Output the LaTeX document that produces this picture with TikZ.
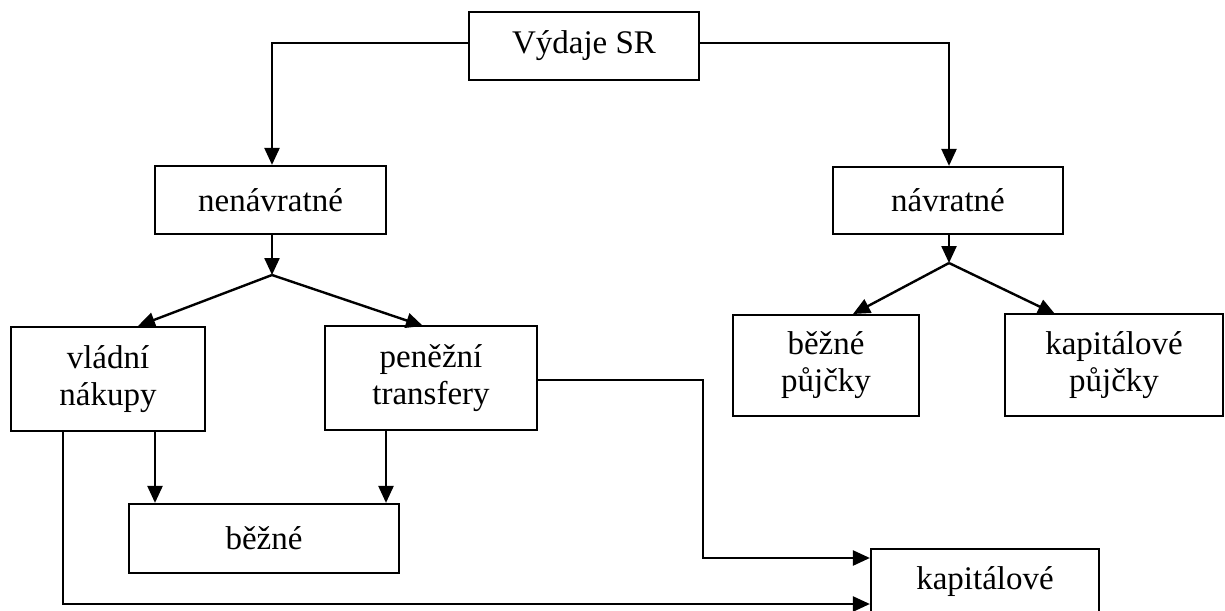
\documentclass[tikz,border=0pt]{standalone}
\usepackage{fontspec}
\setmainfont{Liberation Serif}
\usetikzlibrary{arrows.meta,calc}
\begin{document}
\begin{tikzpicture}[x=0.5pt,y=-0.5pt,
  box/.style={draw,line width=1.1pt,inner sep=0pt,align=center,
    font=\fontsize{16.5}{18.5}\selectfont},
  arr/.style={line width=1.2pt,-{Triangle[length=8.5pt,width=7.5pt]}},
  ln/.style={line width=1.2pt}]
\useasboundingbox (0,0) rectangle (1225,610);
% boxes
\node[box,minimum width=115pt,minimum height=34pt] (top) at (584,46) {Výdaje SR};
\node[box,minimum width=115.5pt,minimum height=34pt] (nenav) at (270.5,200) {nenávratné};
\node[box,minimum width=115pt,minimum height=33.5pt] (nav) at (948,200.5) {návratné};
\node[box,minimum width=97pt,minimum height=52pt] (vlad) at (108,379) {vládní\\nákupy};
\node[box,minimum width=106pt,minimum height=52pt] (pen) at (431,378) {peněžní\\transfery};
\node[box,minimum width=93pt,minimum height=50.5pt] (bpuj) at (826,365.5) {běžné\\půjčky};
\node[box,minimum width=109pt,minimum height=51pt] (kpuj) at (1114,365) {kapitálové\\půjčky};
\node[box,minimum width=135pt,minimum height=34.5pt] (bez) at (264,538.5) {běžné};
\node[box,minimum width=114pt,minimum height=33pt] (kap) at (985,582) {kapitálové};
% helper coordinates
\coordinate (j1) at (272,275);
\coordinate (j2) at (949,263);
\coordinate (t1) at (138,326);
\coordinate (t2) at (423,326);
\coordinate (t3) at (853,314);
\coordinate (t4) at (1055,314);
\coordinate (xa) at (155,0);
\coordinate (xb) at (63,0);
\coordinate (xc) at (386,0);
\coordinate (yb) at (0,604);
\coordinate (yc) at (0,380);
\coordinate (xd) at (703,0);
\coordinate (yd) at (0,558);
\coordinate (ya) at (0,43);
% connectors
\draw[arr] (top.west |- ya) -| (nenav.north -| j1);
\draw[arr] (top.east |- ya) -| (nav.north -| j2);
\draw[arr] (nenav.south -| j1) -- (j1);
\draw[arr] (j1) -- (t1);
\draw[arr] (j1) -- (t2);
\draw[arr] (nav.south -| j2) -- (j2);
\draw[arr] (j2) -- (t3);
\draw[arr] (j2) -- (t4);
\draw[arr] (vlad.south -| xa) -- (bez.north -| xa);
\draw[arr] (pen.south -| xc) -- (bez.north -| xc);
\draw[arr] (vlad.south -| xb) -- (xb |- yb) -- (kap.west |- yb);
\draw[arr] (pen.east |- yc) -- (xd |- yc) -- (xd |- yd) -- (kap.west |- yd);
\end{tikzpicture}
\end{document}
